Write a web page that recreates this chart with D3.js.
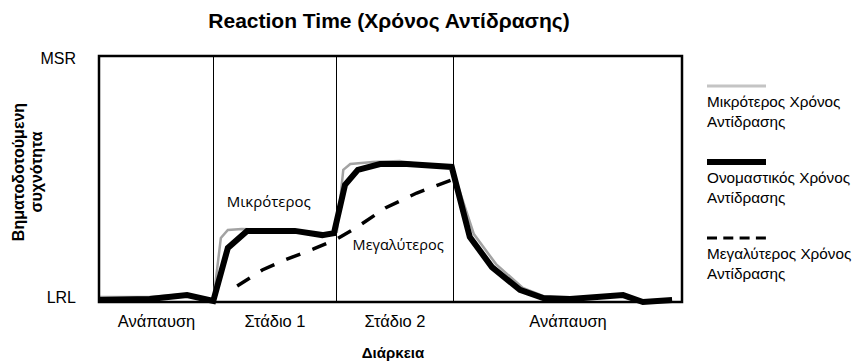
<!DOCTYPE html>
<html>
<head>
<meta charset="utf-8">
<script src="https://cdn.jsdelivr.net/npm/d3@7"></script>
<style>
  html, body { margin: 0; padding: 0; background: #fff; }
  svg { display: block; }
</style>
</head>
<body>
<svg id="chart" width="859" height="363"></svg>
<script>
// Time axis runs 0–100 (arbitrary units), response axis 0 (LRL) – 100 (MSR region)
const stageNames = ["Ανάπαυση", "Στάδιο 1", "Στάδιο 2", "Ανάπαυση"];
const stageBounds = [0, 19.55, 40.65, 60.72, 100];

const yTickValues = [2, 99.2];
const yTickLabels = ["LRL", "MSR"];

// Nominal reaction time (thick black)
const nominalX = [0, 8.7, 15.1, 19.6, 22.1, 25.4, 33.6, 38.3, 40.3, 42.2, 44.4, 48.2, 52.8, 60.5, 63.6, 67.4, 72.2, 76.2, 80.8, 85.4, 89.9, 93.3, 98.3];
const nominalY = [0.8, 1.2, 2.8, 0.4, 22, 28.9, 28.9, 27.2, 28, 47.6, 53.7, 56.1, 56.1, 54.9, 26.4, 14.2, 4.9, 1.6, 1.2, 2, 2.8, 0, 0.8];

// Shorter reaction time (grey)
const shortX = [0, 8.7, 15.1, 19.6, 20.9, 22.1, 24.5, 33.6, 38.3, 40.8, 41.9, 43.1, 47, 51.6, 55.6, 60.5, 64.3, 68.1, 72.7, 76.7, 80.8, 85.4, 89.9, 93.3, 98.3];
const shortY = [2, 2, 3.2, 0.4, 26, 29.3, 29.7, 28.9, 27.2, 28.5, 53.7, 56.1, 56.9, 57.3, 55.7, 54.9, 27.6, 15.4, 5.7, 2, 1.2, 2, 2.8, 0, 0.8];

// Longer reaction time (dashed)
const longX = [23.7, 28, 31.9, 36.7, 40.8, 44.3, 49.1, 54.5, 60.5];
const longY = [6.5, 13, 17.1, 21.5, 25.6, 30.5, 38.2, 44.3, 49.6];

const annotations = [
  { text: "Μικρότερος", x: 21.9, y: 38.6, size: 15 },
  { text: "Μεγαλύτερος", x: 43.5, y: 21.2, size: 14.5 }
];

const legendItems = [
  { lines: ["Μικρότερος Χρόνος", "Αντίδρασης"], key: "short" },
  { lines: ["Ονομαστικός Χρόνος", "Αντίδρασης"], key: "nominal" },
  { lines: ["Μεγαλύτερος Χρόνος", "Αντίδρασης"], key: "long" }
];

const styles = {
  short:   { stroke: "#a3a3a3", width: 2.5, dash: null },
  nominal: { stroke: "#000",    width: 6,   dash: null },
  long:    { stroke: "#000",    width: 3.5, dash: "15,13" }
};

const svg = d3.select("#chart");
const plot = { left: 99, right: 682, top: 56, bottom: 302 };
const sans = "'Liberation Sans', Arial, sans-serif";

const x = d3.scaleLinear().domain([0, 100]).range([plot.left, plot.right]);
const y = d3.scaleLinear().domain([0, 100]).range([plot.bottom, plot.top]);

// Title
svg.append("text")
  .attr("x", 389).attr("y", 28)
  .attr("text-anchor", "middle")
  .style("font-family", sans)
  .style("font-weight", "bold").style("font-size", "21px")
  .text("Reaction Time (Χρόνος Αντίδρασης)");

// Stage dividers
svg.append("g").selectAll("line")
  .data(stageBounds.slice(1, -1))
  .join("line")
  .attr("x1", d => Math.round(x(d)) + 0.5).attr("x2", d => Math.round(x(d)) + 0.5)
  .attr("y1", plot.top).attr("y2", plot.bottom)
  .attr("stroke", "#000").attr("stroke-width", 1);

// Series
const lineGen = d3.line().x(d => x(d[0])).y(d => y(d[1]));
const zip = (a, b) => a.map((v, i) => [v, b[i]]);

function drawSeries(key, xs, ys) {
  const s = styles[key];
  svg.append("path")
    .datum(zip(xs, ys))
    .attr("fill", "none")
    .attr("stroke", s.stroke)
    .attr("stroke-width", s.width)
    .attr("stroke-linejoin", "miter")
    .attr("stroke-dasharray", s.dash)
    .attr("d", lineGen);
}
drawSeries("short", shortX, shortY);
drawSeries("long", longX, longY);
drawSeries("nominal", nominalX, nominalY);

// Frame
svg.append("rect")
  .attr("x", plot.left).attr("y", plot.top)
  .attr("width", plot.right - plot.left).attr("height", plot.bottom - plot.top)
  .attr("fill", "none").attr("stroke", "#000").attr("stroke-width", 2.5);

// Curve annotations
svg.append("g").selectAll("text")
  .data(annotations)
  .join("text")
  .attr("x", d => x(d.x)).attr("y", d => y(d.y))
  .style("font-family", "'Open Sans', 'Noto Sans', sans-serif")
  .style("font-size", d => d.size + "px")
  .text(d => d.text);

// Y axis (LRL / MSR)
const yAxis = d3.axisLeft(y)
  .tickValues(yTickValues)
  .tickFormat((d, i) => yTickLabels[i])
  .tickSize(0).tickPadding(23);
const gy = svg.append("g").attr("transform", `translate(${plot.left},0)`).call(yAxis);
gy.select(".domain").remove();
gy.selectAll("text")
  .style("font-family", sans)
  .style("font-size", "16px").attr("fill", "#000");

// X axis (stage names at stage centres)
const mids = stageNames.map((_, i) => (stageBounds[i] + stageBounds[i + 1]) / 2);
const xAxis = d3.axisBottom(x)
  .tickValues(mids)
  .tickFormat((d, i) => stageNames[i])
  .tickSize(0).tickPadding(13);
const gx = svg.append("g").attr("transform", `translate(0,${plot.bottom})`).call(xAxis);
gx.select(".domain").remove();
gx.selectAll("text")
  .style("font-family", sans)
  .style("font-size", "16.5px").attr("fill", "#000");

// Axis titles
svg.append("text")
  .attr("x", 393).attr("y", 358)
  .attr("text-anchor", "middle")
  .style("font-family", sans)
  .style("font-weight", "bold").style("font-size", "15px")
  .text("Διάρκεια");

const yTitle = svg.append("text")
  .attr("transform", "translate(0,172) rotate(-90)")
  .attr("text-anchor", "middle")
  .style("font-family", sans)
  .style("font-weight", "bold").style("font-size", "16px");
yTitle.append("tspan").attr("x", 0).attr("y", 24).text("Βηματοδοτούμενη");
yTitle.append("tspan").attr("x", 0).attr("y", 42).text("συχνότητα");

// Legend
const legend = svg.append("g").attr("transform", "translate(707,86)");
legendItems.forEach((item, i) => {
  const g = legend.append("g").attr("transform", `translate(0,${i * 76})`);
  const s = styles[item.key];
  g.append("line")
    .attr("x1", 0).attr("x2", 59).attr("y1", 0).attr("y2", 0)
    .attr("stroke", item.key === "short" ? "#c4c4c4" : s.stroke)
    .attr("stroke-width", item.key === "nominal" ? 6 : 3)
    .attr("stroke-dasharray", item.key === "long" ? "10,6.3" : null);
  const t = g.append("text")
    .style("font-family", sans)
    .style("font-size", "15.3px");
  item.lines.forEach((ln, j) => {
    t.append("tspan").attr("x", 0).attr("y", 21 + j * 20).text(ln);
  });
});
</script>
</body>
</html>
